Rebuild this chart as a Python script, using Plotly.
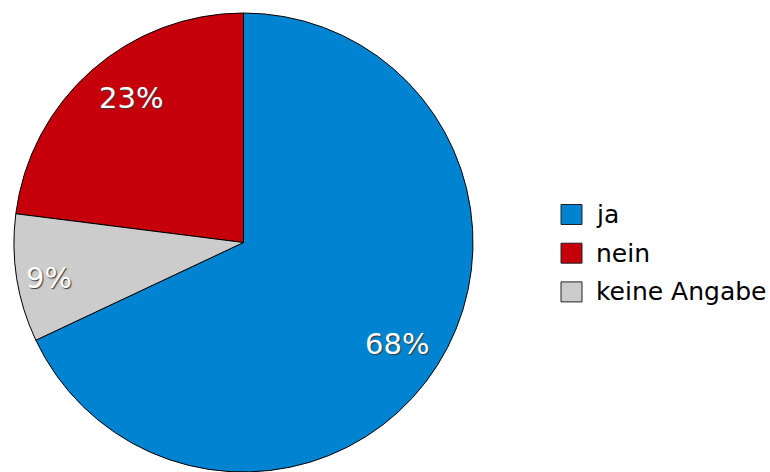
import math
import plotly.graph_objects as go

# Survey answers and their shares (percent)
labels = ["ja", "nein", "keine Angabe"]
shares = [68, 23, 9]
colors = ["#0084D1", "#C5000B", "#CCCCCC"]

W, H = 770, 472
FONT = "DejaVu Sans, Liberation Sans, Arial, sans-serif"

# Pie placement in pixels (left, right, top, bottom)
pie_left, pie_right, pie_top, pie_bottom = 11, 476, 13, 472
dom_x = [pie_left / W, pie_right / W]
dom_y = [1 - pie_bottom / H, 1 - pie_top / H]

# "ja" runs clockwise from 12 o'clock; the others follow counterclockwise
rotation = 0
total = sum(shares)

fig = go.Figure(
    go.Pie(
        labels=labels,
        values=shares,
        sort=False,
        direction="counterclockwise",
        rotation=rotation,
        marker=dict(colors=colors, line=dict(color="#000000", width=1)),
        textinfo="none",
        domain=dict(x=dom_x, y=dom_y),
        hoverinfo="label+percent",
        showlegend=False,
    )
)

# Percentage labels placed near each slice's bisector
cx = (pie_left + pie_right) / 2
r = min(pie_right - pie_left, pie_bottom - pie_top) / 2
cy = (pie_top + pie_bottom) / 2
label_radius = [0.80, 0.80, 0.86]
label_angle_shift = [1.0, 3.5, -1.5]
first_deg = 360 * shares[0] / total
cum = 0
for val, fr, da in zip(shares, label_radius, label_angle_shift):
    mid_deg = rotation + first_deg - 360 * (cum + val / 2) / total + da
    mid = math.radians(mid_deg)
    x_px = cx + r * fr * math.sin(mid)
    y_px = cy - r * fr * math.cos(mid)
    fig.add_annotation(
        x=x_px / W, y=1 - y_px / H, xref="paper", yref="paper",
        text=f"{val}%", showarrow=False, xanchor="center", yanchor="middle",
        font=dict(family=FONT, size=29, color="white", shadow="1px 1px 1px #3a3a3a"),
    )
    cum += val

# Legend: colour swatches with labels
leg_x0, leg_sw_w, leg_sw_h = 561, 21, 20
leg_y0, leg_step = 214.5, 38.7
for i, (lab, col) in enumerate(zip(labels, colors)):
    yc = leg_y0 + i * leg_step
    fig.add_shape(
        type="rect", xref="paper", yref="paper",
        x0=leg_x0 / W, x1=(leg_x0 + leg_sw_w) / W,
        y0=1 - (yc + leg_sw_h / 2) / H, y1=1 - (yc - leg_sw_h / 2) / H,
        fillcolor=col, line=dict(color="#222222", width=1),
    )
    fig.add_annotation(
        x=(leg_x0 + leg_sw_w + 12) / W, y=1 - yc / H, xref="paper", yref="paper",
        text=lab, showarrow=False, xanchor="left", yanchor="middle",
        font=dict(family=FONT, size=25, color="#000000"),
    )

fig.update_layout(
    width=W,
    height=H,
    margin=dict(l=0, r=0, t=0, b=0),
    paper_bgcolor="white",
    plot_bgcolor="white",
    showlegend=False,
)

fig.write_html("out.html")
